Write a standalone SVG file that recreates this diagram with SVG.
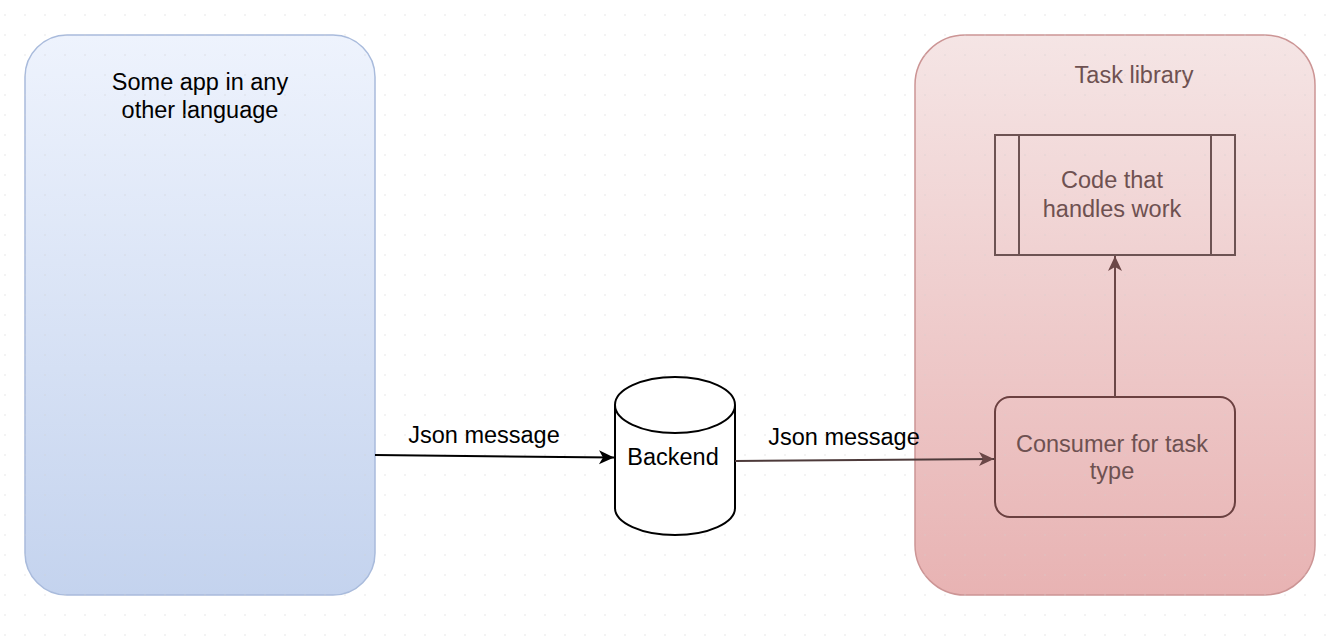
<svg xmlns="http://www.w3.org/2000/svg" width="1344" height="636" viewBox="0 0 1344 636">
  <defs>
    <pattern id="grid" x="0" y="0" width="20" height="20" patternUnits="userSpaceOnUse">
      <rect x="4.5" y="14.5" width="1" height="1" fill="#d0d0d0"/>
    </pattern>
    <linearGradient id="blueGrad" x1="0" y1="0" x2="0" y2="1">
      <stop offset="0" stop-color="#eef3fd"/>
      <stop offset="1" stop-color="#c4d3ee"/>
    </linearGradient>
    <linearGradient id="redGrad" x1="0" y1="0" x2="0" y2="1">
      <stop offset="0" stop-color="#f5e5e5"/>
      <stop offset="1" stop-color="#e8b3b3"/>
    </linearGradient>
    <marker id="arrowBlack" viewBox="-16 -8 17 16" markerWidth="17" markerHeight="16" refX="0" refY="0" orient="auto" markerUnits="userSpaceOnUse">
      <path d="M0,0 L-15,-7 L-11,0 L-15,7 Z" fill="#000"/>
    </marker>
    <marker id="arrowBrown" viewBox="-16 -8 17 16" markerWidth="17" markerHeight="16" refX="0" refY="0" orient="auto" markerUnits="userSpaceOnUse">
      <path d="M0,0 L-15,-7 L-11,0 L-15,7 Z" fill="#6b4747"/>
    </marker>
    <style>
      .lbl { font-family: "Liberation Sans", Arial, sans-serif; font-size: 23.5px; text-anchor: middle; }
      .dark { fill: #000; }
      .brown { fill: #6e5151; }
      .conn { fill: none; stroke-width: 2; }
    </style>
  </defs>
  <rect x="0" y="0" width="1344" height="636" fill="#ffffff"/>

  <g id="app">
    <rect x="25" y="35" width="350" height="560" rx="42" ry="42" fill="url(#blueGrad)" stroke="#a9bbdc" stroke-width="1.5"/>
    <text class="lbl dark" x="200" y="90">Some app in any</text>
    <text class="lbl dark" x="200" y="118">other language</text>
  </g>

  <g id="task-library">
    <rect x="915" y="35" width="400" height="560" rx="50" ry="50" fill="url(#redGrad)" stroke="#cc9595" stroke-width="1.5"/>
    <text class="lbl brown" x="1134" y="83" fill="#7b6262">Task library</text>
  </g>

  <rect x="0" y="0" width="1344" height="636" fill="url(#grid)"/>

  <g id="backend">
    <path d="M615,405 L615,508 A60,27 0 0 0 735,508 L735,405 A60,28 0 0 0 615,405 Z" fill="#ffffff" stroke="#000" stroke-width="2"/>
    <path d="M615,405 A60,28 0 0 0 735,405" fill="none" stroke="#000" stroke-width="2"/>
    <text class="lbl dark" x="673" y="465">Backend</text>
  </g>

  <g id="code-handler">
    <rect x="995" y="135" width="240" height="120" fill="none" stroke="#6d5353" stroke-width="2"/>
    <line x1="1019" y1="135" x2="1019" y2="255" stroke="#6d5353" stroke-width="2"/>
    <line x1="1211" y1="135" x2="1211" y2="255" stroke="#6d5353" stroke-width="2"/>
    <text class="lbl brown" x="1112" y="188">Code that</text>
    <text class="lbl brown" x="1112" y="217">handles work</text>
  </g>

  <g id="consumer">
    <rect x="995" y="397" width="240" height="120" rx="15" ry="15" fill="none" stroke="#6b4040" stroke-width="2"/>
    <text class="lbl brown" x="1112" y="452">Consumer for task</text>
    <text class="lbl brown" x="1112" y="479">type</text>
  </g>

  <g id="connectors">
    <line class="conn" x1="375" y1="455" x2="614" y2="457.5" stroke="#000" marker-end="url(#arrowBlack)"/>
    <text class="lbl dark" x="484" y="443">Json message</text>
    <line class="conn" x1="735" y1="461" x2="994" y2="459" stroke="#4d3a3a" marker-end="url(#arrowBrown)"/>
    <text class="lbl dark" x="844" y="445">Json message</text>
    <line class="conn" x1="1115" y1="397" x2="1115" y2="256" stroke="#6b4747" marker-end="url(#arrowBrown)"/>
  </g>
</svg>
